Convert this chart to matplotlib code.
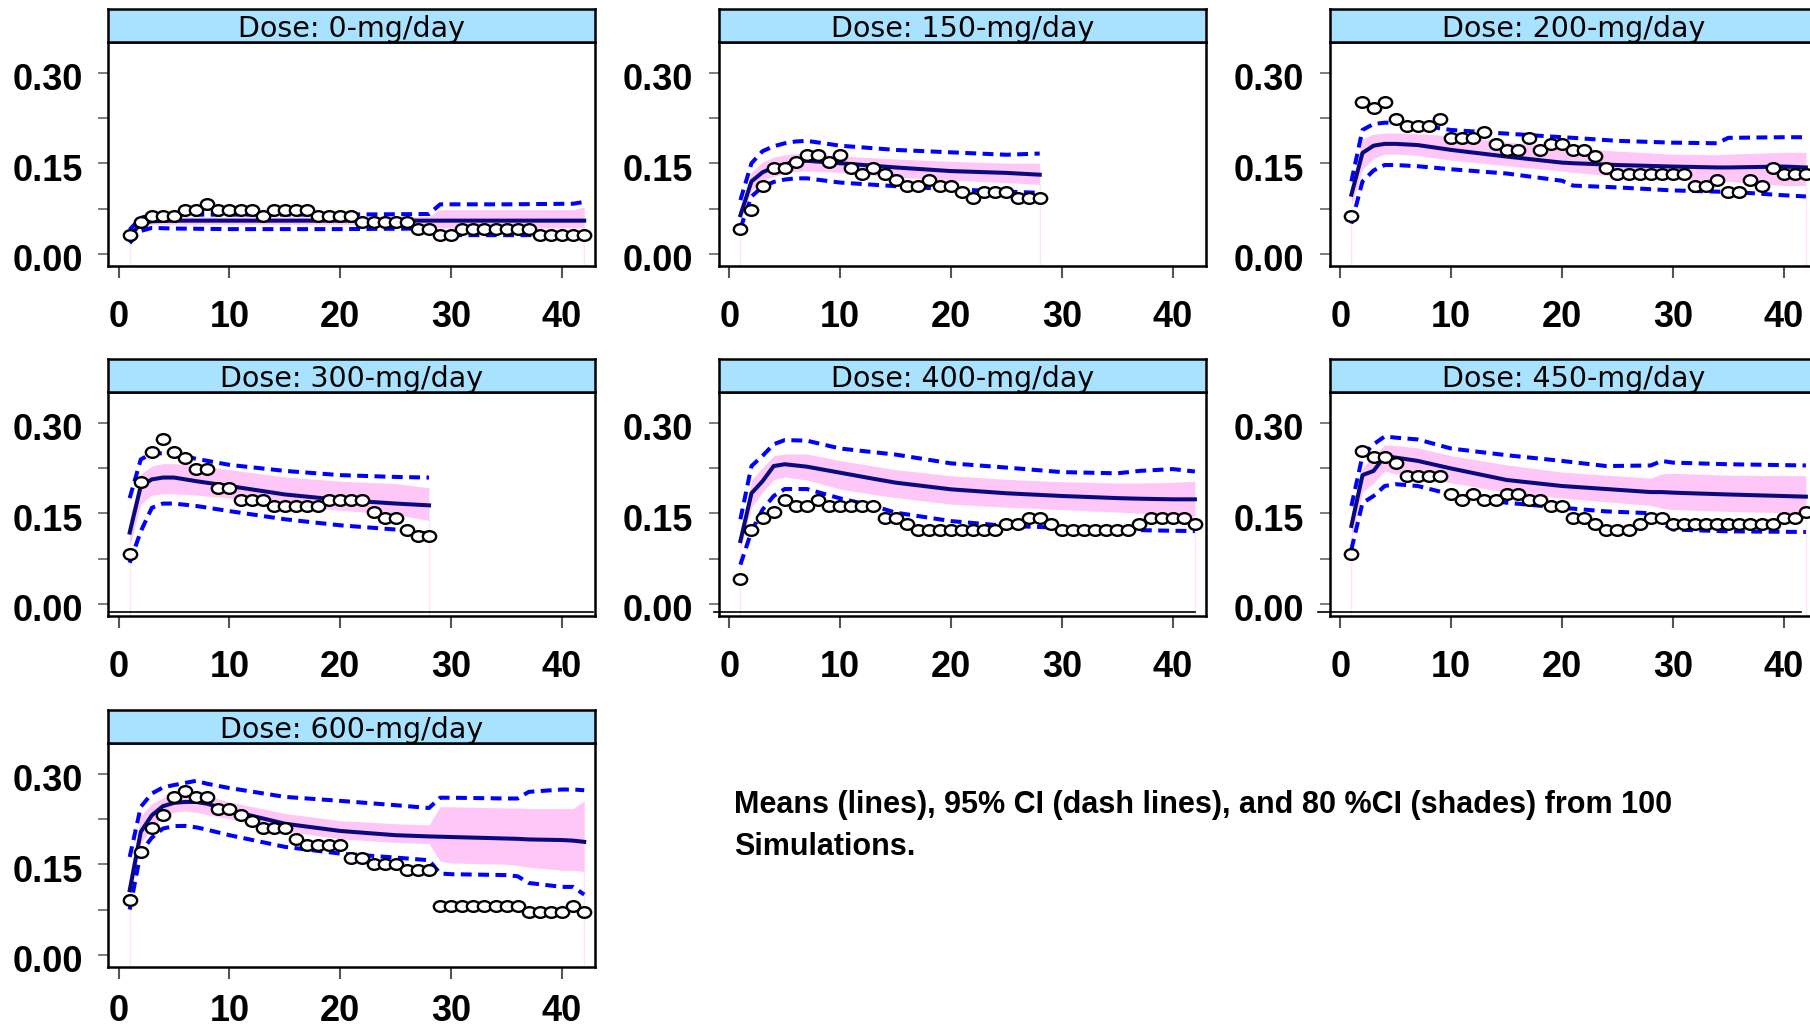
import numpy as np
import matplotlib
matplotlib.use("Agg")
import matplotlib.pyplot as plt
from matplotlib import font_manager
from matplotlib.path import Path
from matplotlib.transforms import Affine2D, ScaledTranslation

# ---------------- data ----------------
doses = ["0", "150", "200", "300", "400", "450", "600"]

# observed daily values (day 1..n)
obs_0 = [0.031, 0.053, 0.063, 0.063, 0.063, 0.073, 0.073, 0.083, 0.073, 0.073, 0.073, 0.073, 0.063, 0.073,
         0.073, 0.073, 0.073, 0.063, 0.063, 0.063, 0.063, 0.053, 0.053, 0.053, 0.053, 0.053, 0.042, 0.042,
         0.031, 0.031, 0.042, 0.042, 0.042, 0.042, 0.042, 0.042, 0.042, 0.031, 0.031, 0.031, 0.031, 0.031]
obs_150 = [0.042, 0.072, 0.1125, 0.142, 0.142, 0.152, 0.163, 0.163, 0.152, 0.163, 0.142, 0.132, 0.142, 0.132,
           0.122, 0.1125, 0.1125, 0.122, 0.1125, 0.1125, 0.102, 0.092, 0.102, 0.102, 0.102, 0.092, 0.092, 0.092]
obs_200 = [0.062, 0.252, 0.242, 0.252, 0.223, 0.212, 0.212, 0.212, 0.223, 0.1925, 0.1925, 0.1925, 0.202, 0.182,
           0.172, 0.172, 0.1925, 0.172, 0.182, 0.182, 0.172, 0.172, 0.162, 0.142, 0.132, 0.132, 0.132, 0.132,
           0.132, 0.132, 0.132, 0.1125, 0.1125, 0.122, 0.102, 0.102, 0.122, 0.1125, 0.142, 0.132, 0.132, 0.132]
obs_300 = [0.082, 0.202, 0.252, 0.272, 0.252, 0.242, 0.2227, 0.2227, 0.192, 0.192, 0.172, 0.172, 0.172, 0.162,
           0.162, 0.162, 0.162, 0.162, 0.172, 0.172, 0.172, 0.172, 0.152, 0.1425, 0.1425, 0.1215, 0.112, 0.112]
obs_400 = [0.041, 0.1215, 0.1415, 0.152, 0.172, 0.162, 0.162, 0.172, 0.162, 0.162, 0.162, 0.162, 0.162, 0.1425,
           0.1425, 0.1315, 0.1215, 0.1215, 0.1215, 0.1215, 0.1215, 0.1215, 0.1215, 0.1215, 0.1315, 0.1315, 0.1425, 0.1425,
           0.1315, 0.1215, 0.1215, 0.1215, 0.1215, 0.1215, 0.1215, 0.1215, 0.1315, 0.1425, 0.1425, 0.1425, 0.1425, 0.1315]
obs_450 = [0.082, 0.253, 0.243, 0.243, 0.2326, 0.2116, 0.2116, 0.2116, 0.2116, 0.181, 0.172, 0.181, 0.172, 0.172,
           0.181, 0.181, 0.172, 0.172, 0.162, 0.162, 0.1425, 0.1425, 0.1315, 0.1215, 0.1215, 0.1215, 0.1315, 0.1425,
           0.1425, 0.1315, 0.1315, 0.1315, 0.1315, 0.1315, 0.1315, 0.1315, 0.1315, 0.1315, 0.1315, 0.1425, 0.1425, 0.152]
obs_600 = [0.0915, 0.1704, 0.2107, 0.231, 0.261, 0.2713, 0.261, 0.261, 0.241, 0.241, 0.231, 0.221, 0.2107, 0.2107,
           0.2107, 0.191, 0.1814, 0.1814, 0.1814, 0.1814, 0.161, 0.161, 0.151, 0.151, 0.151, 0.141, 0.141, 0.141,
           0.0805, 0.0805, 0.0805, 0.0805, 0.0805, 0.0805, 0.0805, 0.0805, 0.0706, 0.0706, 0.0706, 0.0706, 0.0805, 0.0706]

# simulation summaries (read at the listed days)
day_0 = [1, 2, 3, 5, 10, 20, 28, 29, 35, 41, 42]
mean_0 = [0.030, 0.050, 0.054, 0.055, 0.055, 0.055, 0.055, 0.055, 0.055, 0.055, 0.055]
u95_0 = [0.040, 0.060, 0.064, 0.065, 0.065, 0.065, 0.066, 0.082, 0.082, 0.083, 0.086]
l95_0 = [0.018, 0.038, 0.043, 0.042, 0.041, 0.041, 0.042, 0.031, 0.031, 0.031, 0.031]
u80_0 = [0.035, 0.056, 0.060, 0.061, 0.061, 0.061, 0.062, 0.073, 0.073, 0.073, 0.078]
l80_0 = [0.025, 0.045, 0.049, 0.049, 0.049, 0.049, 0.048, 0.043, 0.043, 0.043, 0.043]

day_150 = [1, 2, 3, 4, 5, 6, 7, 10, 15, 20, 25, 28]
mean_150 = [0.064, 0.120, 0.135, 0.143, 0.148, 0.153, 0.154, 0.150, 0.143, 0.137, 0.134, 0.131]
u95_150 = [0.089, 0.150, 0.170, 0.178, 0.183, 0.186, 0.187, 0.179, 0.172, 0.168, 0.164, 0.166]
l95_150 = [0.042, 0.095, 0.111, 0.119, 0.123, 0.125, 0.125, 0.118, 0.112, 0.107, 0.103, 0.101]
u80_150 = [0.075, 0.135, 0.152, 0.160, 0.164, 0.166, 0.166, 0.162, 0.157, 0.153, 0.150, 0.150]
l80_150 = [0.055, 0.105, 0.122, 0.128, 0.133, 0.137, 0.137, 0.135, 0.127, 0.122, 0.118, 0.115]

day_200 = [1, 2, 3, 4, 5, 7, 10, 15, 20, 21, 25, 30, 34, 35, 40, 42]
mean_200 = [0.098, 0.167, 0.179, 0.182, 0.182, 0.180, 0.172, 0.161, 0.151, 0.150, 0.147, 0.1445, 0.143, 0.143, 0.1445, 0.143]
u95_200 = [0.120, 0.205, 0.215, 0.217, 0.217, 0.213, 0.205, 0.199, 0.193, 0.192, 0.187, 0.184, 0.183, 0.192, 0.193, 0.193]
l95_200 = [0.050, 0.120, 0.138, 0.147, 0.147, 0.145, 0.140, 0.133, 0.121, 0.113, 0.110, 0.105, 0.103, 0.103, 0.097, 0.095]
u80_200 = [0.110, 0.190, 0.198, 0.200, 0.200, 0.199, 0.195, 0.185, 0.176, 0.175, 0.170, 0.165, 0.164, 0.165, 0.168, 0.168]
l80_200 = [0.080, 0.140, 0.158, 0.165, 0.165, 0.163, 0.155, 0.146, 0.137, 0.135, 0.128, 0.124, 0.121, 0.120, 0.113, 0.113]

day_300 = [1, 2, 3, 4, 5, 7, 10, 15, 20, 25, 28]
mean_300 = [0.118, 0.195, 0.206, 0.209, 0.209, 0.203, 0.195, 0.181, 0.172, 0.166, 0.163]
u95_300 = [0.175, 0.239, 0.249, 0.249, 0.248, 0.240, 0.230, 0.220, 0.213, 0.210, 0.209]
l95_300 = [0.068, 0.120, 0.159, 0.166, 0.166, 0.162, 0.1535, 0.140, 0.130, 0.123, 0.116]
u80_300 = [0.140, 0.215, 0.228, 0.232, 0.232, 0.229, 0.222, 0.210, 0.203, 0.199, 0.192]
l80_300 = [0.095, 0.165, 0.180, 0.182, 0.182, 0.180, 0.175, 0.162, 0.155, 0.148, 0.138]

day_400 = [1, 2, 3, 4, 5, 7, 10, 13, 15, 20, 25, 30, 35, 37, 40, 42]
mean_400 = [0.104, 0.183, 0.203, 0.228, 0.231, 0.227, 0.217, 0.207, 0.2006, 0.1895, 0.183, 0.1785, 0.175, 0.174, 0.173, 0.173]
u95_400 = [0.140, 0.228, 0.245, 0.264, 0.271, 0.270, 0.257, 0.251, 0.247, 0.2325, 0.2255, 0.218, 0.216, 0.220, 0.223, 0.219]
l95_400 = [0.065, 0.120, 0.156, 0.1785, 0.190, 0.190, 0.1745, 0.162, 0.151, 0.137, 0.129, 0.126, 0.123, 0.122, 0.121, 0.1205]
u80_400 = [0.115, 0.205, 0.225, 0.245, 0.248, 0.248, 0.237, 0.228, 0.222, 0.212, 0.206, 0.202, 0.200, 0.200, 0.201, 0.203]
l80_400 = [0.090, 0.160, 0.185, 0.205, 0.210, 0.205, 0.190, 0.181, 0.176, 0.165, 0.160, 0.156, 0.152, 0.150, 0.148, 0.145]

day_450 = [1, 2, 3, 4, 5, 7, 10, 15, 20, 24, 28, 29, 30, 35, 42]
mean_450 = [0.129, 0.213, 0.220, 0.244, 0.242, 0.2365, 0.224, 0.205, 0.195, 0.190, 0.185, 0.185, 0.184, 0.181, 0.1774]
u95_450 = [0.162, 0.245, 0.264, 0.277, 0.275, 0.272, 0.257, 0.246, 0.2365, 0.228, 0.229, 0.2365, 0.2337, 0.231, 0.229]
l95_450 = [0.090, 0.167, 0.1785, 0.195, 0.198, 0.195, 0.181, 0.1674, 0.159, 0.153, 0.150, 0.134, 0.123, 0.120, 0.119]
u80_450 = [0.150, 0.225, 0.245, 0.263, 0.262, 0.258, 0.245, 0.230, 0.218, 0.213, 0.208, 0.215, 0.216, 0.213, 0.212]
l80_450 = [0.110, 0.185, 0.200, 0.220, 0.215, 0.212, 0.200, 0.185, 0.175, 0.169, 0.163, 0.158, 0.156, 0.153, 0.150]

day_600 = [1, 2, 3, 4, 5, 6, 7, 8, 10, 15, 20, 25, 28, 29, 30, 35, 36, 37, 40, 41, 42]
mean_600 = [0.107, 0.2035, 0.231, 0.246, 0.2515, 0.253, 0.253, 0.250, 0.239, 0.217, 0.205, 0.198, 0.196, 0.1955,
            0.195, 0.1925, 0.192, 0.191, 0.190, 0.189, 0.187]
u95_600 = [0.162, 0.245, 0.267, 0.277, 0.281, 0.2845, 0.288, 0.283, 0.276, 0.2614, 0.2548, 0.2476, 0.243, 0.260,
           0.260, 0.2587, 0.2587, 0.2697, 0.2736, 0.2736, 0.2724]
l95_600 = [0.075, 0.170, 0.194, 0.209, 0.213, 0.2134, 0.211, 0.207, 0.198, 0.1787, 0.1676, 0.161, 0.1566, 0.1346,
           0.1335, 0.132, 0.130, 0.119, 0.1125, 0.1125, 0.0998]
u80_600 = [0.130, 0.230, 0.250, 0.260, 0.265, 0.267, 0.266, 0.263, 0.253, 0.234, 0.222, 0.217, 0.215, 0.245,
           0.245, 0.243, 0.243, 0.242, 0.242, 0.242, 0.255]
l80_600 = [0.090, 0.185, 0.210, 0.228, 0.236, 0.238, 0.236, 0.232, 0.225, 0.205, 0.192, 0.186, 0.184, 0.155,
           0.152, 0.150, 0.148, 0.145, 0.140, 0.140, 0.138]

yticks = [0.0, 0.075, 0.15, 0.225, 0.30]
ytick_labels = ["0.00", "", "0.15", "", "0.30"]
xticks = [0, 10, 20, 30, 40]
xtick_labels = ["0", "10", "20", "30", "40"]
note_lines = ["Means (lines), 95% CI (dash lines), and 80 %CI (shades) from 100", "Simulations."]

# ---------------- styling ----------------
names = {f.name for f in font_manager.fontManager.ttflist}
BOLDF = "Liberation Sans" if "Liberation Sans" in names else "DejaVu Sans"
STRIPF = "DejaVu Sans"

W, H = 1810, 1030
fig = plt.figure(figsize=(W / 100, H / 100), dpi=100)

PINK = "#FFC6F8"
NAVY = "#0A0A80"
BLUE = "#0000FF"
STRIP = "#A8E2FF"

# slightly wide open ellipse marker, as in the reference
ell = Path.unit_circle().transformed(Affine2D().scale(1.25, 1.0))

col_left = [108.3, 719.0, 1330.0]
box_w = 487.0
strip_top = [9.0, 359.0, 710.0]
strip_h = 32.7
box_h = 224.3
xpad = [16.0, 16.0, 11.2]

panels = [
    ("0", obs_0, day_0, mean_0, u95_0, l95_0, u80_0, l80_0),
    ("150", obs_150, day_150, mean_150, u95_150, l95_150, u80_150, l80_150),
    ("200", obs_200, day_200, mean_200, u95_200, l95_200, u80_200, l80_200),
    ("300", obs_300, day_300, mean_300, u95_300, l95_300, u80_300, l80_300),
    ("400", obs_400, day_400, mean_400, u95_400, l95_400, u80_400, l80_400),
    ("450", obs_450, day_450, mean_450, u95_450, l95_450, u80_450, l80_450),
    ("600", obs_600, day_600, mean_600, u95_600, l95_600, u80_600, l80_600),
]

ydown = ScaledTranslation(0, -4 / 100, fig.dpi_scale_trans)

for i, (dose, obs, day, mean, u95, l95, u80, l80) in enumerate(panels):
    r, c = divmod(i, 3)
    L = col_left[c]
    T = strip_top[r] + strip_h
    ax = fig.add_axes([L / W, 1 - (T + box_h) / H, box_w / W, box_h / H])
    sax = fig.add_axes([L / W, 1 - T / H, box_w / W, strip_h / H])

    # strip
    sax.set_facecolor(STRIP)
    sax.set_xticks([]); sax.set_yticks([])
    for s in sax.spines.values():
        s.set_linewidth(1.8)
    sax.text(0.5, 0.15, f"Dose: {dose}-mg/day", ha="center", va="baseline",
             fontsize=20.5, family=STRIPF, transform=sax.transAxes)

    ax.set_xlim(-0.93, 43.0)
    ax.set_ylim(-0.02, 0.351)

    ax.fill_between(day, l80, u80, color=PINK, lw=0, zorder=1)
    ax.vlines([day[0], day[-1]], -0.02, [l80[0], l80[-1]], color=PINK, lw=1.0, alpha=0.5, zorder=1)
    ax.plot(day, u95, color=BLUE, lw=2.9, ls=(0, (2.7, 1.6)), zorder=2)
    ax.plot(day, l95, color=BLUE, lw=2.9, ls=(0, (2.7, 1.6)), zorder=2)
    ax.plot(day, mean, color=NAVY, lw=2.9, zorder=3)
    od = np.arange(1, len(obs) + 1)
    ax.plot(od, obs, ls="none", marker=ell, ms=9.6, mfc="white", mec="black", mew=1.7, zorder=4,
            clip_on=False)

    ax.set_yticks(yticks)
    ax.set_yticklabels(ytick_labels)
    ax.set_xticks(xticks)
    ax.set_xticklabels(xtick_labels)
    ax.tick_params(axis="y", direction="out", length=6.9, width=1.2, color="#666666", pad=11.5)
    ax.tick_params(axis="x", direction="out", length=8.4, width=1.5, color="#555555", pad=xpad[r])
    for lab in ax.get_xticklabels() + ax.get_yticklabels():
        lab.set_family(BOLDF)
        lab.set_fontweight("bold")
        lab.set_fontsize(26)
    for lab in ax.get_yticklabels():
        lab.set_transform(lab.get_transform() + ydown)
    for s in ax.spines.values():
        s.set_linewidth(1.8)

    if dose in ("300", "400", "450"):
        x0 = {"300": -0.86, "400": -1.41, "450": -2.04}[dose]
        x1 = {"300": 42.8, "400": 42.0, "450": 41.6}[dose]
        ax.plot([x0, x1], [-0.0138, -0.0138], color="black", lw=1.2, clip_on=False, zorder=5)

fig.text(734 / W, 1 - 813 / H, note_lines[0], ha="left", va="baseline", fontsize=22,
         family=BOLDF, fontweight="bold")
fig.text(734 / W, 1 - 855 / H, note_lines[1], ha="left", va="baseline", fontsize=22,
         family=BOLDF, fontweight="bold")

fig.savefig("out.png", dpi=100)
